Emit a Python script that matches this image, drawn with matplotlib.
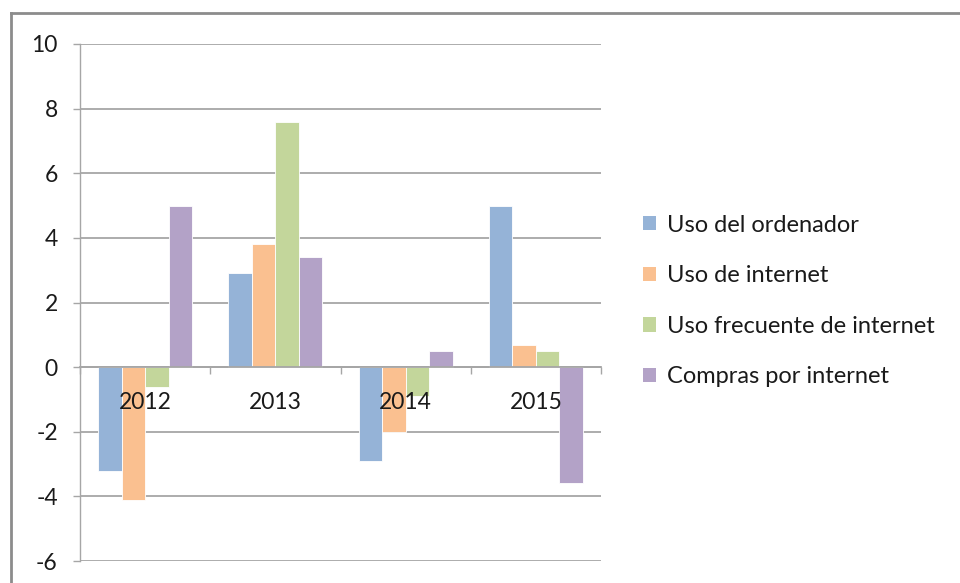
import matplotlib
import numpy as np

matplotlib.use('Agg')
import matplotlib.pyplot as plt
from matplotlib.lines import Line2D
from matplotlib.patches import Patch

# Data
years = ["2012", "2013", "2014", "2015"]
series_names = ["Uso del ordenador", "Uso de internet",
                "Uso frecuente de internet", "Compras por internet"]
uso_ordenador = [-3.2, 2.9, -2.9, 5.0]
uso_internet = [-4.1, 3.8, -2.0, 0.7]
uso_frecuente = [-0.6, 7.6, -0.9, 0.5]
compras = [5.0, 3.4, 0.5, -3.6]
y_ticks = [-6, -4, -2, 0, 2, 4, 6, 8, 10]

colors = ["#95B3D7", "#FAC090", "#C3D69B", "#B3A2C7"]
grid_color = "#A6A6A6"

plt.rcParams['font.family'] = ['Lato', 'DejaVu Sans']

fig = plt.figure(figsize=(9.6, 5.83), dpi=100)
ax = fig.add_axes([80 / 960, 1 - 561 / 583, (601 - 80) / 960, (561 - 44) / 583])

x = np.arange(len(years))
width = 0.18
all_series = [uso_ordenador, uso_internet, uso_frecuente, compras]
for i, (vals, name, c) in enumerate(zip(all_series, series_names, colors)):
    offset = (i - 1.5) * width
    ax.bar(x + offset, vals, width, color=c, label=name,
           edgecolor='white', linewidth=0.6, zorder=2)

ax.set_xlim(-0.5, len(years) - 0.5)
ax.set_ylim(-6, 10)
ax.set_yticks(y_ticks)
ax.set_yticklabels([str(v) for v in y_ticks])
for v in y_ticks:
    ax.axhline(v, color=grid_color, lw=1.3, zorder=1)

# category axis at zero
ax.spines['bottom'].set_position(('data', 0))
ax.spines['bottom'].set_color(grid_color)
ax.spines['bottom'].set_linewidth(1.3)
ax.spines['bottom'].set_zorder(3)
ax.spines['left'].set_color(grid_color)
ax.spines['left'].set_linewidth(1.0)
ax.spines['top'].set_visible(False)
ax.spines['right'].set_visible(False)

ax.set_xticks(x)
ax.set_xticklabels(years)
ax.set_xticks(np.arange(len(years) + 1) - 0.5, minor=True)
ax.tick_params(axis='x', which='major', length=0, pad=18, labelsize=16.5,
               labelcolor='#1a1a1a')
ax.tick_params(axis='x', which='minor', length=5, color=grid_color, width=1)
ax.tick_params(axis='y', length=5, color=grid_color, width=1, pad=11,
               labelsize=16.5, labelcolor='#1a1a1a')
ax.xaxis.set_zorder(5)

handles = [Patch(facecolor=c, edgecolor='none') for c in colors]
fig.legend(handles, series_names, loc='center left',
           bbox_to_anchor=(622 / 960, 1 - 301 / 583), frameon=False,
           fontsize=17, handlelength=0.55, handleheight=0.55,
           handletextpad=0.45, labelspacing=1.25, labelcolor='#1a1a1a')

# outer chart border (clipped on the right and bottom)
fig.add_artist(Line2D([11 / 960, 1.0], [1 - 13 / 583, 1 - 13 / 583],
                      color='#8C8C8C', lw=2, transform=fig.transFigure))
fig.add_artist(Line2D([11 / 960, 11 / 960], [0.0, 1 - 13 / 583],
                      color='#8C8C8C', lw=2, transform=fig.transFigure))

fig.savefig("out.png", dpi=100)
